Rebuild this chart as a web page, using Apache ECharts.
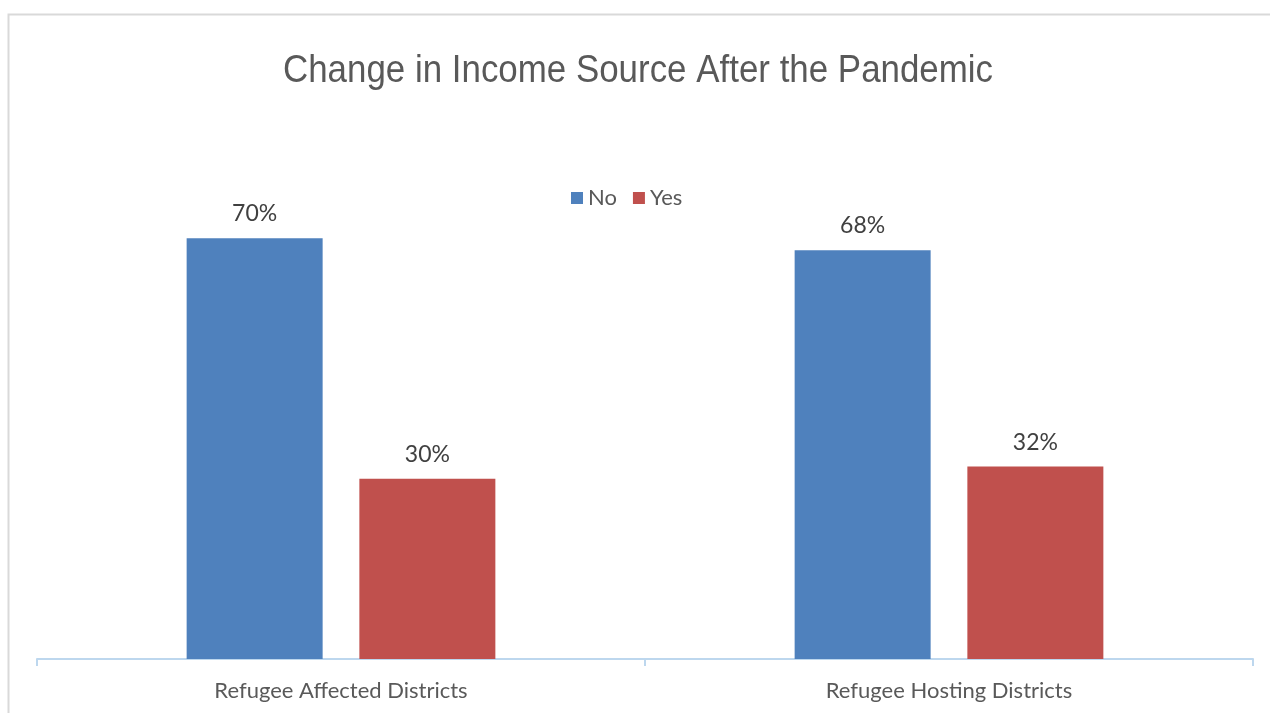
<!DOCTYPE html>
<html>
<head>
<meta charset="utf-8">
<script src="https://cdn.jsdelivr.net/npm/echarts@6/dist/echarts.min.js"></script>
<style>
  html, body { margin: 0; padding: 0; background: #fff; }
  #chart { width: 1270px; height: 713px; }
</style>
</head>
<body>
<div id="chart"></div>
<script>
// Share of households whose income source changed after the pandemic
const titleText = 'Change in Income Source After the Pandemic';
const categories = ['Refugee Affected Districts', 'Refugee Hosting Districts'];
const seriesNames = ['No', 'Yes'];
const noValues = [70, 68];
const yesValues = [30, 32];
const colors = ['#4f81bd', '#c0504d'];

const chart = echarts.init(document.getElementById('chart'));

const labelStyle = {
  show: true,
  position: 'top',
  distance: 13,
  formatter: p => p.value + '%',
  fontFamily: 'Lato',
  fontSize: 23,
  color: '#404040'
};

chart.setOption({
  animation: false,
  legend: {
    data: seriesNames,
    top: 182,
    left: 566,
    itemWidth: 12,
    itemHeight: 12,
    itemGap: 16,
    icon: 'rect',
    textStyle: { fontFamily: 'Lato', fontSize: 22, color: '#595959' }
  },
  graphic: [
    {
      type: 'rect',
      shape: { x: 8.5, y: 14.5, width: 1300, height: 760 },
      style: { fill: 'none', stroke: '#d9d9d9', lineWidth: 2 },
      silent: true
    },
    {
      // condensed title face, narrowed horizontally
      type: 'text',
      x: 638,
      y: 71,
      scaleX: 0.895,
      silent: true,
      style: {
        text: titleText,
        font: '39px "Liberation Sans"',
        fill: '#595959',
        textAlign: 'center',
        textVerticalAlign: 'middle'
      }
    }
  ],
  grid: { left: 37, right: 17, top: 178, bottom: 54 },
  xAxis: {
    type: 'category',
    data: categories,
    axisLine: { lineStyle: { color: '#bdd7ee', width: 2 } },
    axisTick: { show: true, length: 7, lineStyle: { color: '#bdd7ee', width: 2 } },
    axisLabel: { fontFamily: 'Lato', fontSize: 22, color: '#595959', margin: 21 }
  },
  yAxis: {
    type: 'value',
    min: 0,
    max: 80,
    show: false,
    splitLine: { show: false }
  },
  series: [
    {
      name: seriesNames[0],
      type: 'bar',
      data: noValues,
      barWidth: 136,
      barGap: '27%',
      itemStyle: { color: colors[0] },
      label: labelStyle
    },
    {
      name: seriesNames[1],
      type: 'bar',
      data: yesValues,
      barWidth: 136,
      barGap: '27%',
      itemStyle: { color: colors[1] },
      label: labelStyle
    }
  ]
});
</script>
</body>
</html>
